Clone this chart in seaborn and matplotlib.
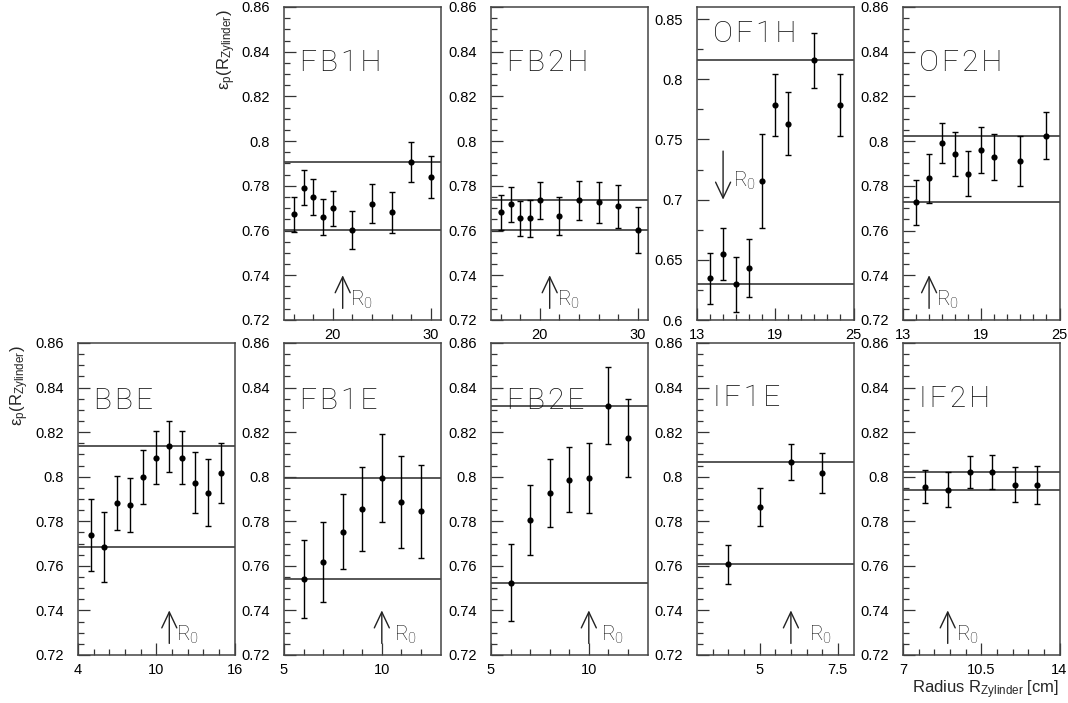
import numpy as np
import pandas as pd
import matplotlib
matplotlib.use("Agg")
import matplotlib.pyplot as plt
import seaborn as sns
from matplotlib.ticker import FixedLocator, FuncFormatter

sns.set_theme(style="ticks")
plt.rcParams["font.family"] = ["Liberation Sans", "DejaVu Sans"]

# ---------------- data ----------------
fb1h_x = [16, 17, 18, 19, 20, 22, 24, 26, 28, 30]
fb1h_y = [0.7672, 0.7791, 0.7751, 0.7662, 0.7699, 0.7602, 0.7721, 0.7681, 0.7907, 0.7839]
fb1h_e = [0.0080, 0.0078, 0.0080, 0.0080, 0.0080, 0.0085, 0.0087, 0.0093, 0.0090, 0.0094]
fb1h_lines = [0.7907, 0.7602]

fb2h_x = [16, 17, 18, 19, 20, 22, 24, 26, 28, 30]
fb2h_y = [0.7681, 0.7718, 0.7654, 0.7654, 0.7735, 0.7665, 0.7735, 0.7726, 0.7708, 0.7602]
fb2h_e = [0.0080, 0.0078, 0.0080, 0.0083, 0.0082, 0.0087, 0.0087, 0.0090, 0.0097, 0.0102]
fb2h_lines = [0.7735, 0.7602]

of1h_x = [14, 15, 16, 17, 18, 19, 20, 22, 24]
of1h_y = [0.6347, 0.6547, 0.6297, 0.6430, 0.7158, 0.7786, 0.7630, 0.8158, 0.7786]
of1h_e = [0.0210, 0.0217, 0.0230, 0.0243, 0.0390, 0.0255, 0.0260, 0.0230, 0.0260]
of1h_lines = [0.8158, 0.6297]

of2h_x = [14, 15, 16, 17, 18, 19, 20, 22, 24]
of2h_y = [0.7727, 0.7833, 0.7992, 0.7942, 0.7855, 0.7960, 0.7928, 0.7912, 0.8024]
of2h_e = [0.0100, 0.0110, 0.0090, 0.0097, 0.0100, 0.0103, 0.0104, 0.0112, 0.0106]
of2h_lines = [0.8024, 0.7727]

bbe_x = [5, 6, 7, 8, 9, 10, 11, 12, 13, 14, 15]
bbe_y = [0.7738, 0.7686, 0.7884, 0.7872, 0.7998, 0.8086, 0.8137, 0.8086, 0.7972, 0.7929, 0.8016]
bbe_e = [0.0160, 0.0157, 0.0121, 0.0121, 0.0120, 0.0119, 0.0114, 0.0118, 0.0137, 0.0149, 0.0136]
bbe_lines = [0.8137, 0.7686]

fb1e_x = [6, 7, 8, 9, 10, 11, 12]
fb1e_y = [0.7541, 0.7619, 0.7753, 0.7856, 0.7994, 0.7887, 0.7844]
fb1e_e = [0.0174, 0.0179, 0.0169, 0.0189, 0.0198, 0.0208, 0.0207]
fb1e_lines = [0.7994, 0.7541]

fb2e_x = [6, 7, 8, 9, 10, 11, 12]
fb2e_y = [0.7524, 0.7805, 0.7928, 0.7986, 0.7995, 0.8319, 0.8174]
fb2e_e = [0.0172, 0.0156, 0.0153, 0.0146, 0.0156, 0.0173, 0.0175]
fb2e_lines = [0.8319, 0.7524]

if1e_x = [4, 5, 6, 7]
if1e_y = [0.7607, 0.7866, 0.8067, 0.8018]
if1e_e = [0.0088, 0.0085, 0.0082, 0.0089]
if1e_lines = [0.8067, 0.7607]

if2h_x = [8, 9, 10, 11, 12, 13]
if2h_y = [0.7956, 0.7941, 0.8021, 0.8021, 0.7965, 0.7962]
if2h_e = [0.0075, 0.0078, 0.0073, 0.0076, 0.0080, 0.0085]
if2h_lines = [0.8021, 0.7941]

# R0 positions
r0_pos = {"FB1H": 21, "FB2H": 21, "OF1H": 15, "OF2H": 15, "BBE": 11,
          "FB1E": 10, "FB2E": 10, "IF1E": 6, "IF2H": 9}

# tick labels
xt_fb_h = [20, 30]
xt_of = [13, 19, 25]
xt_bbe = [4, 10, 16]
xt_fb_e = [5, 10]
xt_if1e = [5, 7.5]
xt_if2h = [7, 10.5, 14]
yt_std = [0.72, 0.74, 0.76, 0.78, 0.80, 0.82, 0.84, 0.86]
yt_of1h = [0.60, 0.65, 0.70, 0.75, 0.80, 0.85]

# ---------------- layout ----------------
W, H = 1068, 703
fig = plt.figure(figsize=(W / 100, H / 100), dpi=100)
col_left = [78, 284, 491, 697, 903]
ax_w = 156.5
top_row = (7, 320)
bot_row = (343, 655)


def make_ax(col, row):
    t, b = row
    return fig.add_axes([col_left[col] / W, 1 - b / H, ax_w / W, (b - t) / H])


fmt = FuncFormatter(lambda v, p: f"{v:g}")
TITLE_FONT = dict(family=["Roboto", "DejaVu Sans"], weight="light")
HAIR = "\u200a"

panels = [
    # name, col, row, x, y, e, lines, xlim, ylim, xmaj, xminor, ymaj, yminor, title_y, r0_dir, r0_dx, r0_y
    ("FB1H", 1, top_row, fb1h_x, fb1h_y, fb1h_e, fb1h_lines, (15, 31), (0.72, 0.86),
     xt_fb_h, np.arange(16, 30, 2), yt_std, 0.005, 0.82, "up", 5, 0.7262),
    ("FB2H", 2, top_row, fb2h_x, fb2h_y, fb2h_e, fb2h_lines, (15, 31), (0.72, 0.86),
     xt_fb_h, np.arange(16, 30, 2), yt_std, 0.005, 0.82, "up", 5, 0.7262),
    ("OF1H", 3, top_row, of1h_x, of1h_y, of1h_e, of1h_lines, (13, 25), (0.60, 0.86),
     xt_of, np.arange(13, 25, 1), yt_of1h, 0.025, 0.915, "down", 7, 0.711),
    ("OF2H", 4, top_row, of2h_x, of2h_y, of2h_e, of2h_lines, (13, 25), (0.72, 0.86),
     xt_of, np.arange(13, 25, 1), yt_std, 0.005, 0.82, "up", 5, 0.7262),
    ("BBE", 0, bot_row, bbe_x, bbe_y, bbe_e, bbe_lines, (4, 16), (0.72, 0.86),
     xt_bbe, np.arange(4, 16, 1.2), yt_std, 0.005, 0.815, "up", 5, 0.7262),
    ("FB1E", 1, bot_row, fb1e_x, fb1e_y, fb1e_e, fb1e_lines, (5, 13), (0.72, 0.86),
     xt_fb_e, np.arange(5, 13, 1), yt_std, 0.005, 0.815, "up", 9, 0.7262),
    ("FB2E", 2, bot_row, fb2e_x, fb2e_y, fb2e_e, fb2e_lines, (5, 13), (0.72, 0.86),
     xt_fb_e, np.arange(5, 13, 1), yt_std, 0.005, 0.815, "up", 9, 0.7262),
    ("IF1E", 3, bot_row, if1e_x, if1e_y, if1e_e, if1e_lines, (3, 8), (0.72, 0.86),
     xt_if1e, np.arange(3, 8, 0.5), yt_std, 0.005, 0.823, "up", 13, 0.7262),
    ("IF2H", 4, bot_row, if2h_x, if2h_y, if2h_e, if2h_lines, (7, 14), (0.72, 0.86),
     xt_if2h, np.arange(7, 14, 0.7), yt_std, 0.005, 0.82, "up", 6, 0.7262),
]

for (name, col, row, xs, ys, es, lines, xlim, ylim, xmaj, xminor, ymaj, ymin_step,
     title_y, r0_dir, r0_dx, r0_y) in panels:
    ax = make_ax(col, row)
    df = pd.DataFrame({"r": xs, "eff": ys, "err": es})
    for v in lines:
        ax.axhline(v, color="#3a3a3a", lw=1.2, zorder=1)
    ax.errorbar(df["r"], df["eff"], yerr=df["err"], fmt="none", ecolor="black",
                elinewidth=1.0, capsize=2.5, capthick=1.0, zorder=2)
    sns.scatterplot(data=df, x="r", y="eff", ax=ax, color="black", s=20,
                    edgecolor="black", linewidth=0, zorder=3, legend=False)
    ax.set_xlim(*xlim)
    ax.set_ylim(*ylim)
    ax.set_xlabel("")
    ax.set_ylabel("")

    ax.xaxis.set_major_locator(FixedLocator(xmaj))
    minors = [m for m in np.round(xminor, 3) if xlim[0] < m < xlim[1] and
              not np.any(np.isclose(m, xmaj))]
    ax.xaxis.set_minor_locator(FixedLocator(minors))
    ax.yaxis.set_major_locator(FixedLocator(ymaj))
    ymin_ticks = np.round(np.arange(ylim[0], ylim[1] + 1e-9, ymin_step), 4)
    ymin_ticks = [m for m in ymin_ticks if not np.any(np.isclose(m, ymaj))]
    ax.yaxis.set_minor_locator(FixedLocator(ymin_ticks))
    ax.xaxis.set_major_formatter(fmt)
    ax.yaxis.set_major_formatter(fmt)

    ax.tick_params(axis="both", which="both", direction="in", top=False, right=False,
                   colors="#333333", labelcolor="black", labelsize=10.5)
    ax.tick_params(axis="both", which="major", length=8.5, width=0.9)
    ax.tick_params(axis="both", which="minor", length=4.5, width=0.9)
    ax.tick_params(axis="y", which="major", pad=10)
    ax.tick_params(axis="x", which="major", pad=6)
    for s in ax.spines.values():
        s.set_color("#444444")
        s.set_linewidth(1.1)
        s.set_visible(True)

    ax.text(0.105, title_y, HAIR.join(name), transform=ax.transAxes, ha="left",
            va="center", fontsize=21.5, color="#111111", **TITLE_FONT)

    x0 = r0_pos[name]
    if r0_dir == "up":
        y_from, y_to = 0.7252, 0.7400
    else:
        y_from, y_to = 0.7403, 0.7000
    ax.annotate("", xy=(x0, y_to), xytext=(x0, y_from),
                arrowprops=dict(arrowstyle="->,head_length=0.95,head_width=0.45",
                                lw=1.0, color="#222222", shrinkA=0, shrinkB=0))
    ax.annotate(r"$\mathregular{R_0}$", xy=(x0, r0_y), xytext=(r0_dx, 0),
                textcoords="offset points", ha="left", va="baseline",
                fontsize=15, color="#111111", **TITLE_FONT)
    ax.grid(False)

ylab = r"$\mathregular{ε_p(R_{Zylinder})}$"
fig.text(227 / W, 1 - 9 / H, ylab, rotation=90, ha="center", va="top", fontsize=12)
fig.text(20 / W, 1 - 345 / H, ylab, rotation=90, ha="center", va="top", fontsize=12)
fig.text(1059 / W, 1 - 693 / H, r"Radius $\mathregular{R_{Zylinder}}$ [cm]",
         ha="right", va="baseline", fontsize=12)

fig.savefig("out.png", dpi=100, facecolor="white")
